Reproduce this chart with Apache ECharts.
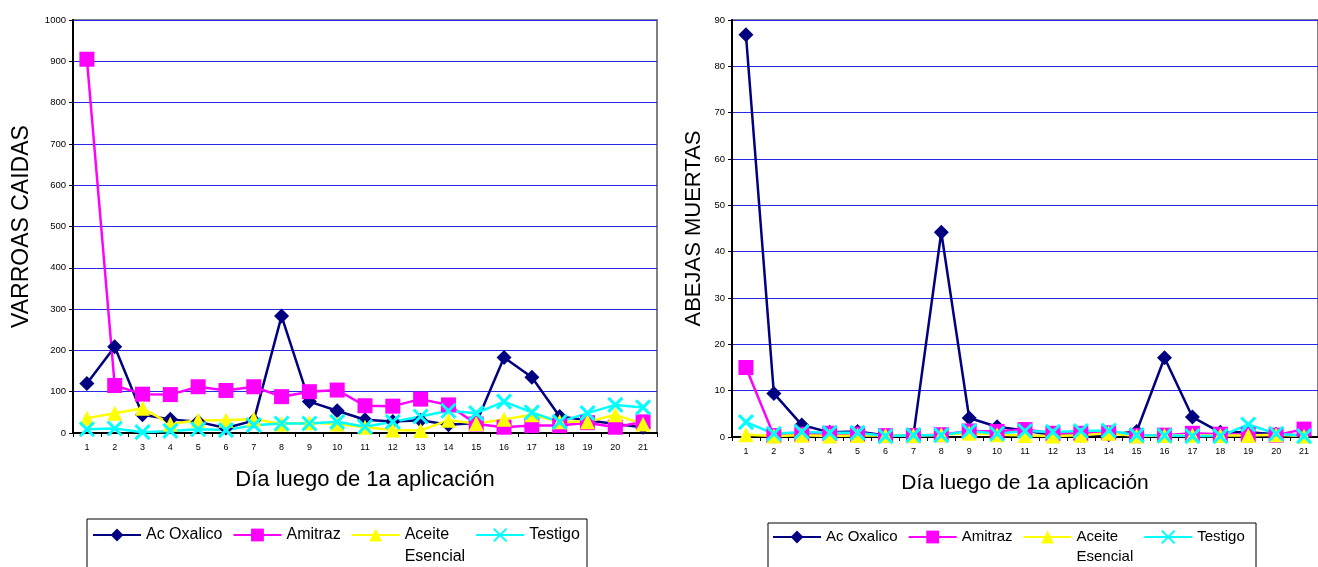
<!DOCTYPE html>
<html>
<head>
<meta charset="utf-8">
<script src="https://cdn.jsdelivr.net/npm/echarts@6/dist/echarts.min.js"></script>
<style>
html,body{margin:0;padding:0;background:#fff;}
#c{width:1318px;height:567px;}
</style>
</head>
<body>
<div id="c"></div>
<script>
// ---- data ----
const days = ['1','2','3','4','5','6','7','8','9','10','11','12','13','14','15','16','17','18','19','20','21'];
const seriesNames = ['Ac Oxalico', 'Amitraz', 'Aceite Esencial', 'Testigo'];
const yTicksLeft = [0, 1000, 100];
const yTicksRight = [0, 90, 10];

// Varroas caídas (left chart)
const varroaOxalico = [120, 209, 44, 33, 27, 12, 30, 283, 76, 54, 32, 28, 31, 20, 24, 183, 135, 40, 31, 22, 14];
const varroaAmitraz = [905, 115, 94, 93, 112, 103, 112, 88, 100, 104, 66, 65, 82, 68, 22, 14, 18, 18, 25, 14, 27];
const varroaAceite  = [36, 48, 60, 22, 31, 31, 34, 22, 25, 22, 14, 7, 6, 31, 23, 33, 44, 27, 27, 44, 22];
const varroaTestigo = [9, 11, 2, 5, 9, 7, 19, 23, 23, 27, 15, 27, 40, 54, 48, 76, 50, 27, 48, 68, 62];

// Abejas muertas (right chart)
const abejaOxalico = [86.8, 9.4, 2.6, 1.0, 1.2, 0.3, 0.3, 44.2, 4.1, 2.2, 1.4, 0.4, 0.4, 0.5, 1.2, 17.1, 4.3, 1.0, 1.0, 0.6, 0.3];
const abejaAmitraz = [15, 0.3, 0.6, 0.8, 0.6, 0.3, 0.3, 0.5, 1.3, 1.2, 1.6, 0.8, 0.8, 0.9, 0.3, 0.4, 0.8, 0.6, 0.5, 0.4, 1.7];
const abejaAceite  = [0.5, 0.2, 0.4, 0.2, 0.3, 0.3, 0.3, 0.5, 0.8, 0.5, 0.3, 0.2, 0.4, 0.8, 0.2, 0.3, 0.4, 0.3, 0.3, 0.5, 0.2];
const abejaTestigo = [3.2, 0.7, 1.1, 0.9, 0.9, 0.2, 0.4, 0.4, 1.3, 0.7, 1.3, 1.1, 1.3, 1.4, 0.4, 0.3, 0.2, 0.2, 2.7, 0.7, 0.2];

// ---- styles ----
const FONT = '"Liberation Sans", Arial, sans-serif';
const colors = ['#000080', '#ff00ff', '#ffff00', '#00ffff'];
const symbols = ['diamond', 'rect', 'triangle', 'path://M0,0L10,10M10,0L0,10'];
const symSizes = [15, 15, 15, 14];

function mkSeries(name, idx, data, axisIdx) {
  const isCross = idx === 3;
  return {
    type: 'line',
    name: name,
    xAxisIndex: axisIdx,
    yAxisIndex: axisIdx,
    data: data,
    symbol: symbols[idx],
    symbolSize: symSizes[idx],
    showAllSymbol: true,
    animation: false,
    lineStyle: { color: colors[idx], width: 2.5 },
    itemStyle: {
      color: colors[idx],
      borderColor: colors[idx],
      borderWidth: isCross ? 3 : 0
    },
    emphasis: { disabled: true }
  };
}

function mkX(gridIndex, gap, nameSize) {
  return {
    type: 'category',
    gridIndex: gridIndex,
    data: days,
    boundaryGap: true,
    name: 'Día luego de 1a aplicación',
    nameLocation: 'middle',
    nameGap: gap,
    nameTextStyle: { fontFamily: FONT, fontSize: nameSize, color: '#000' },
    axisLine: { show: true, lineStyle: { color: '#000', width: 2 } },
    axisTick: { show: true, inside: false, length: 4, lineStyle: { color: '#000', width: 1 } },
    axisLabel: { interval: 0, fontFamily: FONT, fontSize: 9, color: '#000', margin: 10 },
    splitLine: { show: false }
  };
}

function mkY(gridIndex, ticks, name, gap, nameSize) {
  return {
    type: 'value',
    gridIndex: gridIndex,
    min: ticks[0], max: ticks[1], interval: ticks[2],
    name: name,
    nameLocation: 'middle',
    nameRotate: 90,
    nameGap: gap,
    nameTextStyle: { fontFamily: FONT, fontSize: nameSize, color: '#000' },
    axisLine: { show: true, lineStyle: { color: '#000', width: 2 } },
    axisTick: { show: true, inside: false, length: 4, lineStyle: { color: '#000', width: 1 } },
    axisLabel: { fontFamily: FONT, fontSize: 9.5, color: '#000', margin: 7, formatter: function (v) { return String(v); } },
    splitLine: { show: true, lineStyle: { color: '#2828e6', width: 1 } }
  };
}

function legendFmt(name) {
  if (name === 'Aceite Esencial') return ' \nAceite\nEsencial';
  return name;
}

function mkLegend(left, top, fontSize, lh, itemGap) {
  return {
    orient: 'horizontal',
    left: left, top: top,
    padding: 0,
    itemGap: itemGap,
    itemWidth: 48,
    itemHeight: 16,
    data: seriesNames,
    selectedMode: false,
    formatter: legendFmt,
    lineStyle: { width: 2 },
    textStyle: { fontFamily: FONT, fontSize: fontSize, color: '#000', lineHeight: lh }
  };
}

const chart = echarts.init(document.getElementById('c'), null, { renderer: 'canvas' });
chart.setOption({
  backgroundColor: '#ffffff',
  animation: false,
  grid: [
    { left: 73, top: 20, width: 584, height: 413, show: true, borderColor: '#808080', borderWidth: 2, backgroundColor: '#fff', containLabel: false },
    { left: 732, top: 20, width: 595, height: 417, show: true, borderColor: '#808080', borderWidth: 2, backgroundColor: '#fff', containLabel: false }
  ],
  xAxis: [mkX(0, 36, 22), mkX(1, 36, 21)],
  yAxis: [mkY(0, yTicksLeft, 'VARROAS CAIDAS', 40, 23), mkY(1, yTicksRight, 'ABEJAS MUERTAS', 27, 22)],
  legend: [
    mkLegend(92, 502, 16, 22, 10),
    mkLegend(772, 507, 15, 20, 10)
  ],
  graphic: [
    { type: 'rect', shape: { x: 87, y: 519, width: 500, height: 70 }, style: { fill: 'none', stroke: '#000', lineWidth: 1 }, silent: true, z: -1 },
    { type: 'rect', shape: { x: 768, y: 523, width: 488, height: 70 }, style: { fill: 'none', stroke: '#000', lineWidth: 1 }, silent: true, z: -1 }
  ],
  series: [
    mkSeries(seriesNames[0], 0, varroaOxalico, 0),
    mkSeries(seriesNames[1], 1, varroaAmitraz, 0),
    mkSeries(seriesNames[2], 2, varroaAceite, 0),
    mkSeries(seriesNames[3], 3, varroaTestigo, 0),
    mkSeries(seriesNames[0], 0, abejaOxalico, 1),
    mkSeries(seriesNames[1], 1, abejaAmitraz, 1),
    mkSeries(seriesNames[2], 2, abejaAceite, 1),
    mkSeries(seriesNames[3], 3, abejaTestigo, 1)
  ]
});
</script>
</body>
</html>
